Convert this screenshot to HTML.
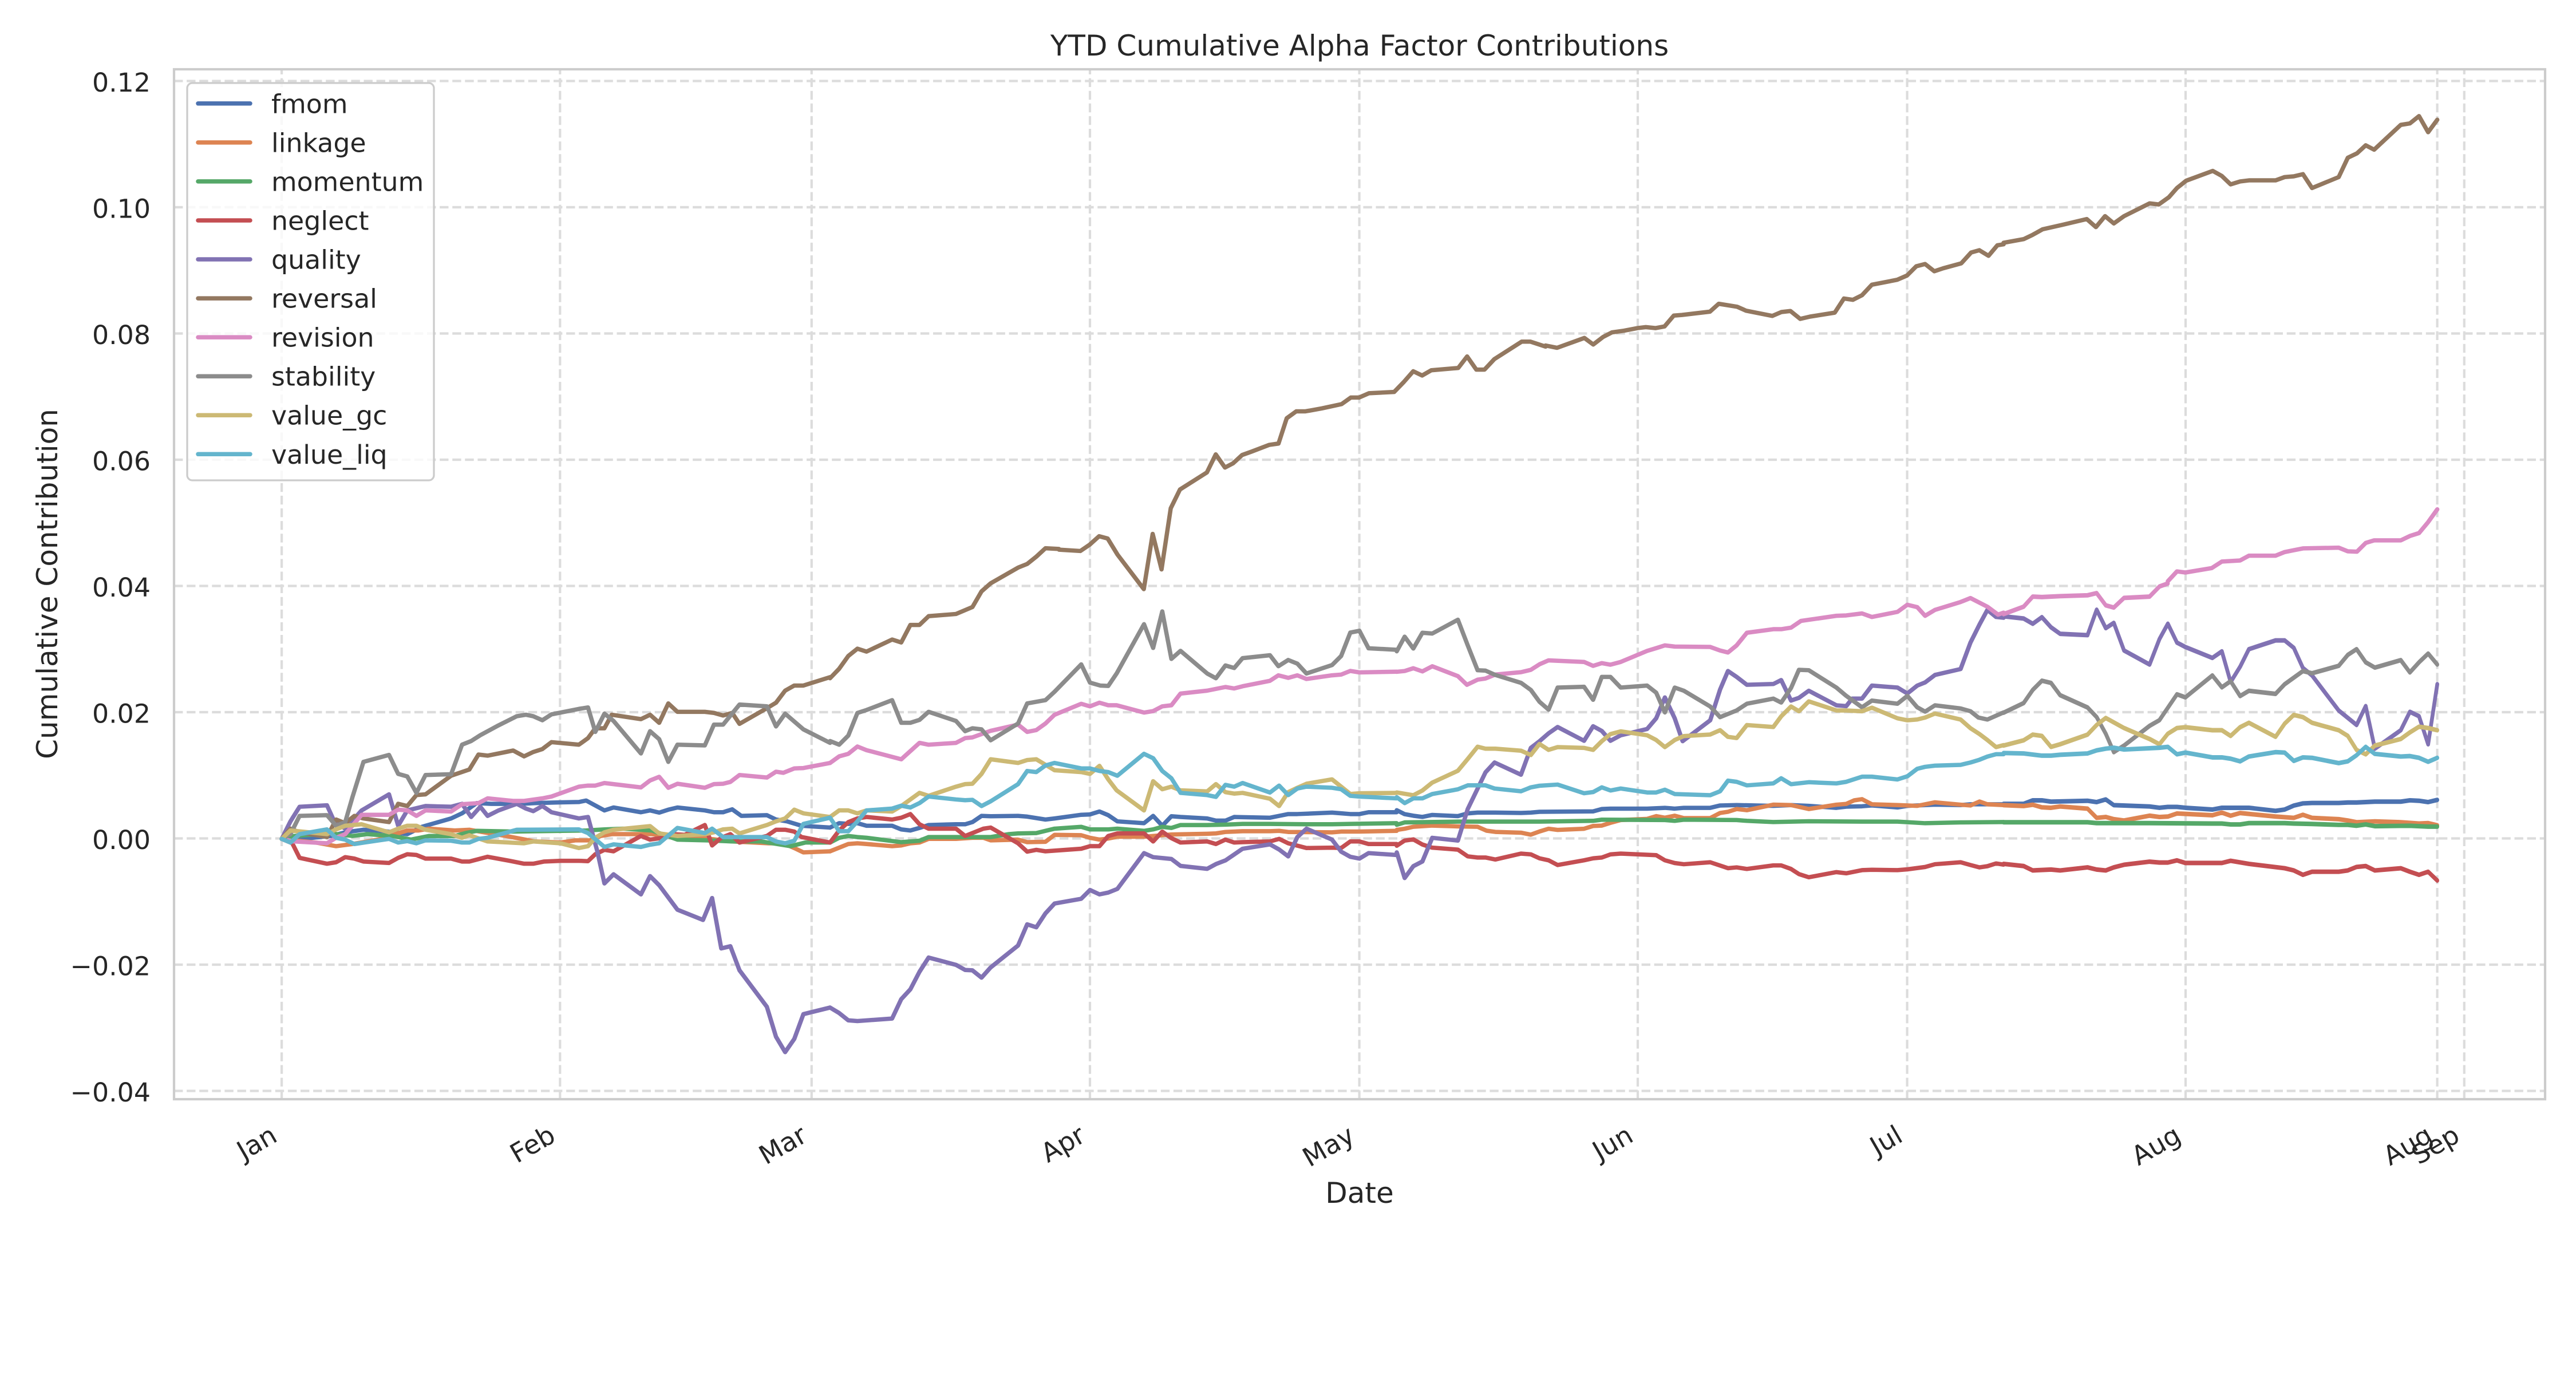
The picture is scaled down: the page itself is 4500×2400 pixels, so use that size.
<!DOCTYPE html>
<html>
<head>
<meta charset="utf-8">
<style>
html,body{margin:0;padding:0;background:#fff;}
svg{display:block;}
polyline{fill:none;}
.t5{stroke-width:11.76;}
.t7{stroke-width:10.89;}
.t8{stroke-width:13.07;}
.t4{stroke-width:10.4;}
text{font-family:"DejaVu Sans","Liberation Sans",sans-serif;fill:#262626;}
</style>
</head>
<body>
<svg width="4500" height="2400" viewBox="0 0 4500 2400" xmlns="http://www.w3.org/2000/svg">
<rect x="0" y="0" width="4500" height="2400" fill="#ffffff"/>

<!-- grid -->
<g stroke="#dcdcdc" stroke-width="4.17" stroke-dasharray="15.4 6.7" fill="none">
  <line x1="304" y1="141.5" x2="4446" y2="141.5"/>
  <line x1="304" y1="362" x2="4446" y2="362"/>
  <line x1="304" y1="582.5" x2="4446" y2="582.5"/>
  <line x1="304" y1="803" x2="4446" y2="803"/>
  <line x1="304" y1="1023.5" x2="4446" y2="1023.5"/>
  <line x1="304" y1="1244" x2="4446" y2="1244"/>
  <line x1="304" y1="1464.5" x2="4446" y2="1464.5"/>
  <line x1="304" y1="1685" x2="4446" y2="1685"/>
  <line x1="304" y1="1905.5" x2="4446" y2="1905.5"/>
  <line x1="492.1" y1="1920" x2="492.1" y2="121"/>
  <line x1="978.3" y1="1920" x2="978.3" y2="121"/>
  <line x1="1417.8" y1="1920" x2="1417.8" y2="121"/>
  <line x1="1904" y1="1920" x2="1904" y2="121"/>
  <line x1="2374.6" y1="1920" x2="2374.6" y2="121"/>
  <line x1="2861" y1="1920" x2="2861" y2="121"/>
  <line x1="3331.6" y1="1920" x2="3331.6" y2="121"/>
  <line x1="3818" y1="1920" x2="3818" y2="121"/>
  <line x1="4257.6" y1="1920" x2="4257.6" y2="121"/>
  <line x1="4304.8" y1="1920" x2="4304.8" y2="121"/>
</g>

<!-- series -->
<g stroke-linejoin="round" stroke-linecap="round" fill="none">
<!-- fmom -->
<g stroke="#4C72B0">
<polyline class="t5" transform="translate(450,950) scale(0.637755)" points="66,808 100,810 200,800 240,790 290,783 350,787 410,795 450,775 530,752 560,738 600,710 640,712 720,712 760,710 830,708 880,707 900,703 950,730 975,722 1050,735 1075,730 1100,736 1125,728 1150,722 1225,730 1250,735 1275,735 1300,727 1325,745 1395,743 1420,755 1450,760 1490,772 1568,777"/>
<polyline class="t5" transform="translate(1450,950) scale(0.637755)" points="0,777 25,765 50,767 75,765 100,772 170,772 195,782 220,785 245,778 270,770 345,768 370,768 390,762 415,745 440,746 515,745 540,747 590,755 615,752 688,742 712,741 738,733 762,743 787,760 860,765 885,745 910,772 935,746 960,748 1033,752 1057,758 1083,758 1107,748 1205,750 1230,745 1255,740 1280,740 1375,736 1400,738 1425,740 1450,740 1475,735 1552,735"/>
<polyline class="t7" transform="translate(2440,900) scale(0.688776)" points="0,748 20,758 42,762 65,765 90,760 155,763 180,756 205,754 250,754 315,755 340,754 362,752 498,751 520,745 542,744 635,744 680,742 705,744 728,742 795,742 820,736 862,735 955,737 1000,735 1045,737 1115,742 1140,739 1180,738 1205,736 1270,741 1295,737 1365,734 1430,735 1455,733 1478,733 1539,733"/>
<polyline class="t4" transform="translate(3500,1000) scale(0.637755,0.765306)" points="0,528 55,528 80,520 105,520 130,523 230,521 255,524 280,518 302,531 400,534 427,537 450,535 475,535 498,537 572,541 598,537 648,537 672,537 745,544 770,541 795,532 820,527 845,526 918,526 943,525 967,525 992,524 1017,523 1088,523 1113,520 1138,521 1163,524 1188,519"/>
</g>
<!-- linkage -->
<g stroke="#DD8452">
<polyline class="t5" transform="translate(450,950) scale(0.637755)" points="66,808 100,812 160,818 215,828 260,822 330,810 410,785 440,785 470,780 540,785 580,783 620,790 680,800 760,815 830,818 870,812 910,812 940,800 970,795 1000,795 1080,795 1120,800 1180,800 1240,808 1300,815 1400,820 1440,820 1470,833 1495,845 1568,842"/>
<polyline class="t5" transform="translate(1450,950) scale(0.637755)" points="0,842 25,832 50,822 75,820 100,822 170,828 195,826 220,820 245,818 270,808 345,808 390,805 420,805 440,812 515,810 540,817 590,816 615,797 688,798 712,805 738,810 762,807 787,802 860,802 885,800 910,798 935,796 1033,794 1057,793 1083,789 1130,787 1205,787 1230,786 1255,789 1375,790 1400,788 1450,788 1552,786"/>
<polyline class="t7" transform="translate(2440,900) scale(0.688776)" points="0,798 20,795 42,790 90,787 155,789 205,790 228,800 250,803 315,805 340,810 362,802 385,795 408,798 475,795 498,788 520,787 542,780 568,773 635,770 658,763 680,767 705,762 728,768 795,768 820,755 840,752 862,745 888,748 955,734 1000,735 1045,745 1115,734 1140,732 1160,723 1180,720 1205,733 1270,735 1320,737 1365,728 1430,734 1455,736 1478,726 1498,733 1539,735"/>
<polyline class="t4" transform="translate(3500,1000) scale(0.637755,0.765306)" points="0,531 55,533 80,530 105,536 130,537 155,534 230,539 255,560 280,558 302,563 330,566 400,555 427,558 450,557 475,550 572,554 598,548 622,555 648,549 745,557 795,560 820,553 845,560 918,563 943,566 967,570 1017,568 1088,570 1138,573 1163,572 1188,577"/>
</g>
<!-- momentum -->
<g stroke="#55A868">
<polyline class="t5" transform="translate(450,950) scale(0.637755)" points="66,808 100,800 200,793 260,800 300,795 370,800 420,810 470,800 540,800 570,792 600,786 700,788 900,785 950,782 1000,780 1080,785 1150,810 1230,812 1300,815 1380,815 1460,828 1500,818 1568,818"/>
<polyline class="t5" transform="translate(1450,950) scale(0.637755)" points="0,818 25,805 50,800 75,803 100,805 195,817 245,813 270,803 345,803 440,803 490,795 515,793 565,792 615,780 688,775 712,782 762,782 787,780 860,786 885,782 910,775 935,778 960,770 1033,770 1083,769 1130,767 1205,767 1305,768 1375,768 1425,767 1552,765"/>
<polyline class="t7" transform="translate(2440,900) scale(0.688776)" points="0,785 20,779 155,777 362,777 498,775 520,772 680,773 705,775 728,772 862,773 888,775 955,778 1045,776 1180,777 1270,777 1340,781 1430,779 1539,778"/>
<polyline class="t4" transform="translate(3500,1000) scale(0.637755,0.765306)" points="0,570 230,570 255,572 400,572 572,573 598,573 622,575 648,575 672,572 770,572 795,573 845,574 918,576 943,576 967,578 992,575 1017,579 1113,578 1163,580 1188,580"/>
</g>
<!-- neglect -->
<g stroke="#C44E52">
<polyline class="t5" transform="translate(450,950) scale(0.637755)" points="66,808 95,820 115,860 190,876 215,872 240,858 265,862 290,870 360,874 385,860 410,850 435,852 460,862 530,862 560,870 580,870 630,857 690,868 730,876 755,876 785,870 830,868 880,868 905,869 925,850 950,838 975,842 1050,800 1075,810 1110,805 1140,795 1170,797 1225,770 1245,826 1270,805 1295,795 1320,818 1395,800 1420,783 1445,783 1470,788 1490,803 1568,818"/>
<polyline class="t5" transform="translate(1450,950) scale(0.637755)" points="0,818 25,785 50,762 75,752 100,748 170,755 195,750 220,740 245,768 270,780 345,780 370,800 395,790 420,780 440,777 515,820 540,843 565,838 590,842 688,835 712,828 738,828 762,800 787,793 860,793 885,815 910,788 935,806 960,818 1033,815 1057,822 1083,810 1107,818 1130,817 1205,815 1230,808 1255,820 1305,833 1375,832 1400,833 1425,815 1450,815 1475,822 1552,822"/>
<polyline class="t7" transform="translate(2440,900) scale(0.688776)" points="0,838 20,825 42,822 65,835 90,843 155,848 180,865 205,868 225,868 250,873 315,858 340,860 362,870 385,875 408,887 475,875 498,870 520,868 542,860 568,858 658,862 680,875 705,882 728,885 795,880 840,895 862,893 888,897 955,888 975,888 1000,897 1020,910 1045,918 1115,905 1140,908 1180,900 1205,899 1270,900 1295,898 1340,892 1365,885 1430,880 1455,887 1478,893 1498,890 1520,883 1539,886"/>
<polyline class="t4" transform="translate(3500,1000) scale(0.637755,0.765306)" points="0,665 55,670 80,680 130,678 155,680 230,673 255,678 280,680 302,673 330,667 400,660 427,662 450,662 475,657 498,663 598,663 622,658 672,665 770,675 795,680 820,690 845,683 918,683 943,680 967,672 992,670 1017,680 1088,675 1113,683 1138,690 1163,683 1188,703"/>
</g>
<!-- quality -->
<g stroke="#8172B3">
<polyline class="t5" transform="translate(450,950) scale(0.637755)" points="66,808 90,760 115,720 190,716 210,760 240,780 285,730 360,686 385,772 410,730 460,718 530,720 560,712 585,748 610,720 630,745 660,730 710,712 735,725 755,732 780,718 805,735 880,752 905,748 930,840 950,930 975,905 1050,960 1075,910 1100,935 1150,1002 1220,1030 1245,970 1270,1108 1295,1102 1320,1168 1395,1268 1420,1350 1445,1392 1470,1356 1495,1288 1568,1270"/>
<polyline class="t5" transform="translate(1450,950) scale(0.637755)" points="0,1270 25,1285 50,1305 75,1307 170,1300 195,1247 220,1220 245,1172 270,1133 345,1153 370,1167 390,1168 415,1188 440,1160 515,1100 540,1042 565,1050 590,1012 615,985 688,972 712,948 738,960 762,955 787,945 860,847 885,858 935,863 960,882 1033,890 1057,877 1083,867 1130,835 1205,823 1230,837 1255,856 1280,803 1305,780 1375,810 1400,843 1425,857 1450,862 1475,847 1550,852"/>
<polyline class="t7" transform="translate(2440,900) scale(0.688776)" points="0,855 20,920 42,890 65,878 90,818 155,825 180,745 225,652 248,627 315,658 340,590 362,573 385,553 408,537 475,572 498,535 520,547 542,572 568,558 635,542 658,515 680,462 705,515 725,573 795,520 820,442 840,395 862,410 888,430 955,428 975,418 1000,470 1020,463 1045,445 1115,482 1140,484 1155,465 1180,465 1205,432 1270,437 1295,452 1320,432 1340,424 1365,405 1430,390 1455,323 1478,277 1498,240 1520,258 1539,260"/>
<polyline class="t4" transform="translate(3500,1000) scale(0.637755,0.765306)" points="0,100 55,105 80,117 105,102 130,125 155,140 230,143 255,85 280,127 302,115 330,178 400,210 427,152 450,117 475,160 498,170 572,195 598,180 622,250 648,215 672,175 745,155 770,155 795,172 820,218 845,235 918,315 967,348 992,305 1017,402 1088,360 1113,318 1138,328 1163,392 1188,255"/>
</g>
<!-- reversal -->
<g stroke="#937860">
<polyline class="t5" transform="translate(450,950) scale(0.637755)" points="66,808 90,780 115,790 190,803 215,755 240,765 265,745 290,752 360,762 385,712 410,718 435,688 460,686 530,635 580,618 605,577 630,580 700,566 730,582 755,570 780,562 805,543 880,550 905,532 925,505 950,505 970,468 1050,480 1075,468 1100,490 1125,437 1150,460 1225,460 1250,463 1275,470 1300,463 1320,493 1395,450 1420,435 1445,402 1470,388 1495,388 1568,365"/>
<polyline class="t5" transform="translate(1450,950) scale(0.637755)" points="0,368 25,342 50,307 75,287 100,295 170,262 195,270 220,222 245,222 270,198 345,192 390,173 415,130 440,108 515,65 540,55 565,35 590,12 627,14"/>
<polyline class="t8" transform="translate(1850,350) scale(0.573980)" points="0,1063 65,1067 93,1048 122,1022 148,1029 178,1078 258,1183 285,1015 312,1123 340,937 368,880 450,828 477,773 505,813 530,800 557,775 585,765 640,744 668,740 693,663 722,642 750,642 800,633 860,620 888,600 913,600 943,587 1020,583 1050,552 1078,520 1105,533 1133,517 1215,510 1242,475 1270,515 1295,515 1325,483 1408,430 1435,430 1481,445"/>
<polyline class="t8" transform="translate(2700,200) scale(0.573980)" points="0,703 35,710 118,680 145,700 175,677 202,663 238,658 280,650 305,647 335,650 362,645 390,612 415,610 500,600 527,576 583,585 610,597 690,613 718,601 745,598 775,622 805,615 880,603 908,560 935,564 963,550 993,518 1070,503 1100,490 1128,462 1155,455 1183,477 1210,468 1265,453 1295,420 1320,413 1348,430 1375,398 1394,395"/>
<polyline class="t5" transform="translate(3500,0) scale(0.637755)" points="0,665 55,655 80,643 107,628 160,616 228,600 253,622 278,592 302,612 330,592 400,557 425,560 453,540 475,515 500,495 573,468 598,482 622,505 648,497 672,494 745,494 770,485 795,483 820,477 845,515 918,485 943,432 968,420 992,398 1015,410 1088,342 1113,338 1138,318 1163,362 1188,328"/>
</g>
<!-- revision -->
<g stroke="#DA8BC3">
<polyline class="t5" transform="translate(450,950) scale(0.637755)" points="66,808 100,815 190,820 215,805 240,795 285,742 360,742 385,728 410,730 435,745 460,730 530,733 560,713 605,710 630,697 700,704 730,704 780,697 805,692 880,665 905,662 925,662 950,655 1050,667 1075,648 1100,638 1125,668 1150,657 1225,668 1250,658 1275,657 1295,652 1320,633 1395,640 1420,624 1440,627 1470,615 1495,614 1568,600"/>
<polyline class="t5" transform="translate(1450,950) scale(0.637755)" points="0,600 25,582 50,575 75,555 100,565 195,590 245,545 270,550 345,545 370,532 390,530 440,512 515,495 540,515 565,510 590,492 615,468 688,438 712,445 738,435 762,442 785,442 860,462 885,458 910,445 935,442 960,410 1033,402 1083,392 1107,396 1130,390 1205,375 1228,360 1255,367 1280,360 1305,370 1375,360 1400,358 1425,348 1450,352 1552,350"/>
<polyline class="t7" transform="translate(2440,900) scale(0.688776)" points="0,397 20,395 42,388 65,396 90,383 155,408 178,430 205,417 225,414 250,404 315,398 340,392 362,378 385,368 475,372 498,382 520,375 542,379 568,372 635,344 658,337 680,330 705,333 795,334 820,343 840,348 862,330 888,298 955,289 975,289 1000,285 1025,268 1115,255 1140,254 1180,249 1205,258 1270,245 1295,227 1320,233 1340,255 1365,240 1430,220 1455,210 1498,232 1525,252 1539,247"/>
<polyline class="t4" transform="translate(3500,1000) scale(0.637755,0.765306)" points="0,95 55,78 80,55 105,56 155,54 230,52 255,47 280,75 302,80 330,58 400,55 427,32 450,25"/>
<polyline class="t5" transform="translate(3500,0) scale(0.637755)" points="450,1592 475,1565 498,1568 570,1556 598,1538 648,1535 672,1522 745,1522 770,1512 795,1507 820,1502 918,1500 943,1510 968,1511 992,1487 1015,1480 1088,1480 1113,1468 1138,1460 1163,1430 1188,1395"/>
</g>
<!-- stability -->
<g stroke="#8C8C8C">
<polyline class="t5" transform="translate(450,950) scale(0.637755)" points="66,808 90,795 115,745 190,743 215,772 240,762 260,693 290,597 360,578 385,630 410,637 435,682 460,633 530,631 560,550 585,540 610,524 660,497 710,472 735,468 755,472 780,483 805,467 880,452 905,448 925,515 950,465 975,485 1050,574 1075,513 1100,535 1125,597 1150,550 1225,552 1250,495 1275,495 1320,440 1395,445 1420,500 1445,465 1495,508 1568,545"/>
<polyline class="t5" transform="translate(1450,950) scale(0.637755)" points="0,540 25,550 50,525 75,463 100,455 170,428 195,490 220,490 245,482 270,460 345,485 370,513 390,505 415,508 440,538 515,492 540,437 590,428 615,405 688,330 712,380 740,388 762,389 785,355 860,220 885,285 910,185 935,315 960,293 1033,355 1057,368 1083,333 1107,340 1130,313 1205,305 1228,335 1255,318 1280,328 1305,355 1375,332 1400,307 1425,243 1450,238 1475,286 1552,290"/>
<polyline class="t7" transform="translate(2440,900) scale(0.688776)" points="0,345 20,308 42,338 65,298 90,300 155,265 180,330 205,393 225,394 250,405 315,425 340,443 362,473 385,493 408,437 475,435 498,468 520,410 542,410 568,437 635,432 658,450 680,500 705,437 728,445 795,485 820,512 862,495 888,478 955,465 975,475 1000,438 1020,392 1045,393 1115,437 1140,458 1180,487 1205,470 1270,478 1295,458 1320,487 1340,498 1365,482 1430,490 1455,497 1475,513 1498,518 1539,500"/>
<polyline class="t4" transform="translate(3500,1000) scale(0.637755,0.765306)" points="0,320 55,298 80,268 105,247 130,252 155,280 230,308 255,330 280,368 302,410 330,395 400,350 427,337 475,278 498,285 572,235 598,262 622,248 648,282 672,270 745,277 770,255 820,225 845,230 918,213 943,188 967,175 992,205 1017,217 1088,200 1113,228 1138,205 1163,185 1188,210"/>
</g>
<!-- value_gc -->
<g stroke="#CCB974">
<polyline class="t5" transform="translate(450,950) scale(0.637755)" points="66,808 90,785 190,795 215,782 240,772 285,768 360,790 385,780 410,772 435,772 460,783 530,795 560,805 580,798 630,815 730,820 755,815 830,820 880,833 905,828 925,805 950,790 975,783 1075,773 1100,793 1150,800 1225,795 1250,790 1275,782 1300,780 1320,793 1395,770 1420,760 1445,752 1470,728 1495,738 1568,748"/>
<polyline class="t5" transform="translate(1450,950) scale(0.637755)" points="0,748 25,730 50,730 75,738 100,730 170,733 195,718 245,682 270,690 345,665 370,658 390,657 415,630 440,590 515,600 540,592 565,590 590,605 615,620 688,625 712,630 738,608 762,645 785,675 860,730 885,650 910,672 935,665 960,675 1033,678 1057,658 1083,680 1107,684 1130,682 1205,698 1230,718 1255,680 1280,668 1305,657 1375,645 1400,665 1425,685 1450,683 1552,682"/>
<polyline class="t7" transform="translate(2440,900) scale(0.688776)" points="0,703 42,710 65,698 90,678 155,648 180,618 205,587 225,592 250,592 315,597 340,608 362,580 385,595 408,588 475,590 498,595 520,573 542,555 568,548 635,558 658,570 680,588 705,570 728,560 795,556 820,545 840,562 862,565 888,532 955,537 975,510 1000,485 1020,497 1045,472 1115,495 1140,495 1180,497 1205,488 1270,515 1295,520 1320,518 1340,513 1365,503 1430,518 1455,540 1478,555 1498,570 1520,588 1539,583"/>
<polyline class="t4" transform="translate(3500,1000) scale(0.637755,0.765306)" points="0,395 55,383 80,370 105,373 130,398 155,392 230,370 255,348 280,332 330,355 400,380 427,392 450,368 475,355 498,353 572,360 598,360 622,373 648,353 672,343 745,375 770,345 795,325 820,330 845,343 918,360 943,373 967,405 992,415 1017,395 1088,380 1113,365 1138,352 1163,355 1188,360"/>
</g>
<!-- value_liq -->
<g stroke="#64B5CD">
<polyline class="t5" transform="translate(450,950) scale(0.637755)" points="66,808 90,818 115,795 190,782 215,805 240,810 265,822 360,808 385,818 410,814 435,820 460,812 530,813 560,818 580,818 605,808 630,805 710,783 880,782 905,792 950,830 975,823 1050,830 1075,824 1100,820 1150,778 1225,792 1245,780 1275,803 1395,803 1420,815 1445,820 1470,813 1495,767 1568,750"/>
<polyline class="t5" transform="translate(1450,950) scale(0.637755)" points="0,750 25,787 50,787 75,760 100,730 170,725 195,717 220,722 245,710 270,692 345,700 370,702 390,701 415,718 440,705 515,658 540,622 565,625 590,607 615,600 688,615 712,615 738,622 762,625 787,635 860,575 885,587 910,622 935,642 960,682 1033,688 1057,693 1083,660 1107,665 1130,655 1205,681 1230,662 1255,688 1280,670 1305,665 1375,668 1400,672 1425,690 1450,692 1552,697"/>
<polyline class="t7" transform="translate(2440,900) scale(0.688776)" points="0,715 20,730 42,718 65,718 90,707 155,695 180,685 225,685 248,693 315,700 340,690 362,686 408,683 475,705 498,702 520,690 542,698 568,693 635,703 658,703 680,696 705,707 795,710 820,700 840,673 862,676 888,685 955,680 975,667 1000,682 1045,677 1115,680 1140,676 1180,663 1205,663 1270,670 1295,662 1320,643 1340,638 1365,635 1430,633 1455,627 1478,620 1498,612 1520,606 1539,606"/>
<polyline class="t4" transform="translate(3500,1000) scale(0.637755,0.765306)" points="0,412 55,413 105,418 130,418 155,416 230,413 255,406 280,402 302,400 330,404 427,400 450,398 475,415 498,411 572,422 598,422 622,425 648,431 672,420 745,410 770,411 795,430 820,422 845,423 918,435 943,431 967,417 992,398 1017,414 1088,420 1113,419 1138,423 1163,432 1188,423"/>
</g>
</g>

<!-- spines -->
<rect x="304" y="121" width="4142" height="1799" fill="none" stroke="#cccccc" stroke-width="4.2"/>

<!-- y tick labels -->
<g font-size="45.83" text-anchor="end">
  <text x="263" y="160">0.12</text>
  <text x="263" y="380.5">0.10</text>
  <text x="263" y="601">0.08</text>
  <text x="263" y="821.5">0.06</text>
  <text x="263" y="1042">0.04</text>
  <text x="263" y="1262.5">0.02</text>
  <text x="263" y="1483">0.00</text>
  <text x="263" y="1703.5">&#8722;0.02</text>
  <text x="263" y="1924">&#8722;0.04</text>
</g>

<!-- x tick labels -->
<g font-size="45.83" text-anchor="end">
  <text transform="translate(487.1,1992) rotate(-30)">Jan</text>
  <text transform="translate(973.3,1992) rotate(-30)">Feb</text>
  <text transform="translate(1412.8,1992) rotate(-30)">Mar</text>
  <text transform="translate(1899,1992) rotate(-30)">Apr</text>
  <text transform="translate(2369.6,1992) rotate(-30)">May</text>
  <text transform="translate(2856,1992) rotate(-30)">Jun</text>
  <text transform="translate(3326.6,1992) rotate(-30)">Jul</text>
  <text transform="translate(3813,1992) rotate(-30)">Aug</text>
  <text transform="translate(4252.6,1992) rotate(-30)">Aug</text>
  <text transform="translate(4299.8,1992) rotate(-30)">Sep</text>
</g>

<!-- axis labels & title -->
<text x="2375" y="2101" font-size="50" text-anchor="middle">Date</text>
<text transform="translate(100,1020) rotate(-90)" font-size="50" text-anchor="middle">Cumulative Contribution</text>
<text x="2375" y="97" font-size="50" text-anchor="middle">YTD Cumulative Alpha Factor Contributions</text>

<!-- legend -->
<rect x="327" y="145" width="431" height="694" rx="9" ry="9" fill="#ffffff" fill-opacity="0.8" stroke="#cccccc" stroke-width="3.3"/>
<g stroke-width="7.5" stroke-linecap="round">
  <line x1="346" y1="180.8" x2="437" y2="180.8" stroke="#4C72B0"/>
  <line x1="346" y1="248.9" x2="437" y2="248.9" stroke="#DD8452"/>
  <line x1="346" y1="316.9" x2="437" y2="316.9" stroke="#55A868"/>
  <line x1="346" y1="385" x2="437" y2="385" stroke="#C44E52"/>
  <line x1="346" y1="453" x2="437" y2="453" stroke="#8172B3"/>
  <line x1="346" y1="521.1" x2="437" y2="521.1" stroke="#937860"/>
  <line x1="346" y1="589.1" x2="437" y2="589.1" stroke="#DA8BC3"/>
  <line x1="346" y1="657.2" x2="437" y2="657.2" stroke="#8C8C8C"/>
  <line x1="346" y1="725.2" x2="437" y2="725.2" stroke="#CCB974"/>
  <line x1="346" y1="793.3" x2="437" y2="793.3" stroke="#64B5CD"/>
</g>
<g font-size="45.83">
  <text x="474" y="197.3">fmom</text>
  <text x="474" y="265.4">linkage</text>
  <text x="474" y="333.4">momentum</text>
  <text x="474" y="401.5">neglect</text>
  <text x="474" y="469.5">quality</text>
  <text x="474" y="537.6">reversal</text>
  <text x="474" y="605.6">revision</text>
  <text x="474" y="673.7">stability</text>
  <text x="474" y="741.7">value_gc</text>
  <text x="474" y="809.8">value_liq</text>
</g>
</svg>
</body>
</html>
